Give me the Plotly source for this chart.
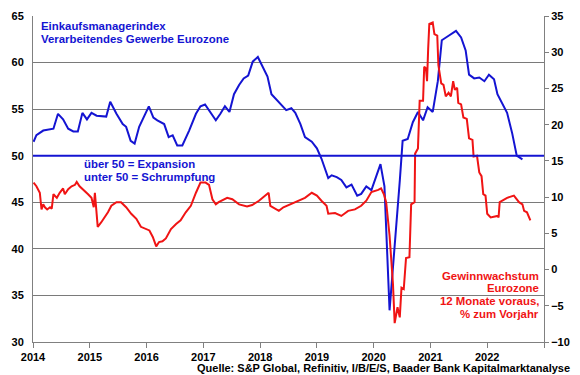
import plotly.graph_objects as go

# Einkaufsmanagerindex (left axis)
pmi_t = [2014.01, 2014.06, 2014.18, 2014.27, 2014.36, 2014.44, 2014.53, 2014.62, 2014.71, 2014.79,
         2014.87, 2014.95, 2015.03, 2015.12, 2015.29, 2015.36, 2015.47, 2015.58, 2015.64, 2015.72,
         2015.79, 2015.87, 2015.96, 2016.04, 2016.12, 2016.19, 2016.31, 2016.39, 2016.46, 2016.54,
         2016.63, 2016.75, 2016.87, 2016.95, 2017.03, 2017.13, 2017.22, 2017.30, 2017.38, 2017.46,
         2017.54, 2017.63, 2017.71, 2017.79, 2017.87, 2017.96, 2018.06, 2018.13, 2018.20, 2018.29,
         2018.38, 2018.46, 2018.55, 2018.62, 2018.71, 2018.79, 2018.91, 2019.00, 2019.08, 2019.14,
         2019.20, 2019.26, 2019.35, 2019.43, 2019.52, 2019.61, 2019.71, 2019.78, 2019.87, 2019.96,
         2020.12, 2020.19, 2020.28, 2020.46, 2020.51, 2020.60, 2020.69, 2020.78, 2020.87, 2020.95,
         2021.04, 2021.13, 2021.20, 2021.30, 2021.45, 2021.54, 2021.62, 2021.68, 2021.77, 2021.86,
         2021.95, 2022.03, 2022.12, 2022.18, 2022.27, 2022.35, 2022.44, 2022.52, 2022.62]
pmi_v = [51.5, 52.2, 52.7, 52.8, 52.9, 54.5, 53.9, 52.9, 52.6, 52.6,
         54.6, 53.9, 54.6, 54.3, 54.2, 55.8, 54.5, 53.4, 53.1, 51.6,
         51.3, 53.1, 54.3, 55.3, 54.1, 53.8, 53.4, 52.0, 52.2, 51.1,
         51.1, 52.7, 54.5, 55.3, 55.5, 54.6, 53.8, 54.5, 55.3, 54.7,
         56.6, 57.6, 58.3, 58.6, 60.1, 60.6, 59.4, 58.5, 56.6, 56.0,
         55.5, 54.9, 55.1, 54.6, 53.4, 52.0, 51.5, 50.8, 49.7, 48.7,
         47.6, 47.9, 47.7, 47.4, 46.6, 46.9, 45.7, 45.9, 46.7, 46.3,
         49.1, 46.7, 33.4, 47.3, 51.6, 51.8, 53.6, 54.7, 53.8, 55.2,
         54.7, 58.0, 62.4, 62.8, 63.4, 62.7, 61.3, 58.7, 58.3, 58.4,
         58.0, 58.7, 58.2, 56.6, 55.5, 54.6, 52.4, 50.0, 49.6]

# Gewinnwachstum Eurozone (right axis)
eps_t = [2014.01, 2014.06, 2014.12, 2014.15, 2014.18, 2014.21, 2014.25, 2014.30, 2014.33, 2014.36,
         2014.42, 2014.47, 2014.53, 2014.56, 2014.62, 2014.68, 2014.74, 2014.77, 2014.82, 2014.88,
         2014.97, 2015.03, 2015.07, 2015.09, 2015.12, 2015.14, 2015.20, 2015.26, 2015.32, 2015.38,
         2015.47, 2015.55, 2015.64, 2015.73, 2015.82, 2015.90, 2015.99, 2016.05, 2016.11, 2016.17,
         2016.22, 2016.28, 2016.34, 2016.43, 2016.52, 2016.60, 2016.69, 2016.78, 2016.87, 2016.95,
         2017.04, 2017.10, 2017.16, 2017.22, 2017.27, 2017.42, 2017.51, 2017.63, 2017.77, 2017.86,
         2017.98, 2018.09, 2018.15, 2018.18, 2018.33, 2018.41, 2018.53, 2018.65, 2018.79, 2018.91,
         2019.00, 2019.08, 2019.17, 2019.20, 2019.32, 2019.43, 2019.55, 2019.67, 2019.78, 2019.87,
         2019.96, 2020.08, 2020.13, 2020.18, 2020.22, 2020.28, 2020.34, 2020.37, 2020.42, 2020.46,
         2020.49, 2020.53, 2020.57, 2020.63, 2020.66, 2020.72, 2020.73, 2020.78, 2020.79, 2020.81,
         2020.87, 2020.89, 2020.92, 2020.94, 2020.96, 2020.98, 2021.04, 2021.07, 2021.12, 2021.14,
         2021.19, 2021.23, 2021.27, 2021.32, 2021.36, 2021.40, 2021.43, 2021.47, 2021.49, 2021.54,
         2021.58, 2021.64, 2021.68, 2021.74, 2021.76, 2021.82, 2021.86, 2021.90, 2021.93, 2021.97,
         2022.00, 2022.06, 2022.18, 2022.20, 2022.22, 2022.35, 2022.47, 2022.56, 2022.62, 2022.65,
         2022.70, 2022.73, 2022.76]
eps_v = [12.0, 11.5, 10.6, 8.3, 9.0, 8.6, 8.3, 8.6, 8.4, 10.4,
         9.9, 10.6, 11.2, 10.4, 11.1, 11.5, 11.7, 12.1, 11.5, 11.1,
         10.4, 9.9, 8.6, 10.6, 7.0, 5.9, 6.5, 7.2, 7.9, 8.8,
         9.3, 9.3, 8.6, 7.7, 7.0, 5.9, 5.6, 5.4, 4.5, 3.2,
         3.8, 3.9, 4.3, 5.6, 6.3, 6.8, 7.9, 8.8, 10.6, 12.0,
         12.0, 11.7, 9.7, 9.0, 9.3, 9.9, 9.7, 9.0, 8.7, 8.9,
         9.5, 10.2, 10.6, 8.8, 8.1, 8.6, 9.0, 9.5, 9.9, 10.6,
         10.2, 9.5, 8.8, 7.7, 7.8, 7.4, 8.1, 8.3, 8.8, 9.5,
         10.7, 11.0, 11.2, 10.4, 9.3, 4.7, -2.0, -7.4, -5.2, -6.6,
         -2.5, -2.7, 1.6, 1.7, 9.0, 9.3, 16.0, 16.7, 19.2, 23.3,
         23.3, 28.0, 27.8, 26.0, 30.5, 33.9, 34.1, 32.5, 32.3, 28.2,
         25.7, 25.5, 23.9, 24.4, 23.9, 26.0, 24.8, 25.1, 23.0, 22.8,
         21.0, 20.8, 18.1, 17.9, 15.6, 15.7, 13.4, 12.9, 10.4, 10.2,
         7.7, 7.2, 7.4, 7.2, 9.3, 9.9, 10.2, 9.3, 9.0, 8.1,
         7.9, 7.2, 6.8]

year_ticks = [2014, 2015, 2016, 2017, 2018, 2019, 2020, 2021, 2022, 2023]
year_labels = ["2014", "2015", "2016", "2017", "2018", "2019", "2020", "2021", "2022", ""]

BLUE = "#1414d2"
RED = "#f01414"
FONT = "Liberation Sans, Arial, sans-serif"

fig = go.Figure()
fig.add_trace(go.Scatter(x=pmi_t, y=pmi_v, mode="lines", line=dict(color=BLUE, width=2),
                         yaxis="y", showlegend=False, hoverinfo="skip"))
fig.add_trace(go.Scatter(x=eps_t, y=eps_v, mode="lines", line=dict(color=RED, width=2),
                         yaxis="y2", showlegend=False, hoverinfo="skip"))

fig.add_shape(type="line", xref="paper", x0=0, x1=1, yref="y", y0=50, y1=50,
              line=dict(color=BLUE, width=2))

tickfont = dict(family=FONT, size=11, color="black", weight="bold")

fig.update_layout(
    width=580, height=375,
    margin=dict(l=33, r=34, t=10, b=33),
    paper_bgcolor="white", plot_bgcolor="white",
    xaxis=dict(range=[2014, 2023], tickvals=year_ticks, ticktext=year_labels,
               showgrid=False, zeroline=False, showline=True, linecolor="#808080", linewidth=1,
               ticks="outside", ticklen=5, tickcolor="#808080", tickfont=tickfont),
    yaxis=dict(range=[30, 65], dtick=5, tick0=30, showgrid=True, gridcolor="#7a7a7a", gridwidth=1,
               zeroline=False, showline=True, linecolor="#808080", linewidth=1,
               ticks="", tickfont=tickfont, ticklabelstandoff=6),
    yaxis2=dict(range=[-10, 35], dtick=5, tick0=-10, overlaying="y", side="right",
                showgrid=False, zeroline=False, showline=True, linecolor="#808080", linewidth=1,
                ticks="outside", ticklen=4, tickcolor="#808080", tickfont=tickfont),
)

def note(text, x, y, color, anchor="left", size=11.4):
    fig.add_annotation(text=text, xref="paper", yref="paper", x=x, y=y, xanchor=anchor,
                       yanchor="middle", showarrow=False,
                       font=dict(family=FONT, size=size, color=color, weight="bold"))

W, H = 513.0, 332.0
def px(xp):
    return (xp - 33) / W
def py(yp):
    return 1 - (yp - 10) / H

note("Einkaufsmanagerindex", px(39), py(20), BLUE)
note("Verarbeitendes Gewerbe Eurozone", px(39), py(33), BLUE)
note("über 50 = Expansion", px(82), py(161), BLUE)
note("unter 50 = Schrumpfung", px(82), py(173.5), BLUE)
note("Gewinnwachstum", px(543), py(275), RED, anchor="right")
note("Eurozone", px(543), py(287.5), RED, anchor="right")
note("12 Monate voraus,", px(543), py(300), RED, anchor="right")
note("% zum Vorjahr", px(543), py(313), RED, anchor="right")
note("Quelle: S&P Global, Refinitiv, I/B/E/S, Baader Bank Kapitalmarktanalyse",
     px(574), py(368.5), "black", anchor="right", size=11)

fig.write_html("out.html", config={"displayModeBar": False},
               post_script="document.body.style.margin='0';")
